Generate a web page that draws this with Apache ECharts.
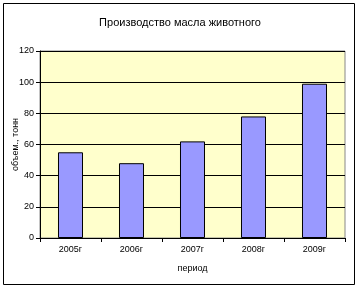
<!DOCTYPE html>
<html><head><meta charset="utf-8">
<script src="https://cdn.jsdelivr.net/npm/echarts@6/dist/echarts.min.js"></script>
<style>html,body{margin:0;padding:0;background:#fff}#c{width:360px;height:288px}</style>
</head><body><div id="c"></div>
<script>
var categories = ['2005г', '2006г', '2007г', '2008г', '2009г'];
var values = [55, 48, 62, 78, 99];
var titleText = 'Производство масла животного';
var yName = 'объем., тонн';
var xName = 'период';

var chart = echarts.init(document.getElementById('c'), null, {renderer: 'canvas'});
var font = 'Arial, "Liberation Sans", sans-serif';
chart.setOption({
  animation: false,
  backgroundColor: '#fff',
  title: {text: titleText, left: 'center', top: 12,
    textStyle: {fontFamily: font, fontSize: 11, fontWeight: 'normal', color: '#000'}},
  graphic: [{type: 'rect', shape: {x: 3.5, y: 3.5, width: 351, height: 281},
    style: {fill: null, stroke: '#000', lineWidth: 1}, z: 100}],
  grid: {left: 40, right: 15, top: 51, bottom: 50, show: true, containLabel: false, outerBoundsMode: 'none',
    backgroundColor: '#FFFFCC', borderColor: '#888', borderWidth: 1},
  xAxis: {type: 'category', data: categories, name: xName, nameLocation: 'middle', nameGap: 26,
    nameMoveOverlap: false,
    nameTextStyle: {fontFamily: font, fontSize: 9, color: '#000'},
    axisLine: {lineStyle: {color: '#000'}},
    axisTick: {show: true, alignWithLabel: false, length: 4, lineStyle: {color: '#000'}},
    axisLabel: {fontFamily: font, fontSize: 9, color: '#000', margin: 7}},
  yAxis: {type: 'value', min: 0, max: 120, interval: 20, name: yName, nameLocation: 'middle', nameGap: 20,
    nameMoveOverlap: false,
    nameTextStyle: {fontFamily: font, fontSize: 9, color: '#000'},
    axisLine: {show: true, lineStyle: {color: '#000'}},
    axisTick: {show: true, length: 4, lineStyle: {color: '#000'}},
    axisLabel: {fontFamily: font, fontSize: 9, color: '#000', margin: 6},
    splitLine: {lineStyle: {color: '#000', width: 1}}},
  series: [{type: 'bar', data: values, barWidth: '41%',
    itemStyle: {color: '#9999FF', borderColor: '#000', borderWidth: 1}}]
});
</script></body></html>
